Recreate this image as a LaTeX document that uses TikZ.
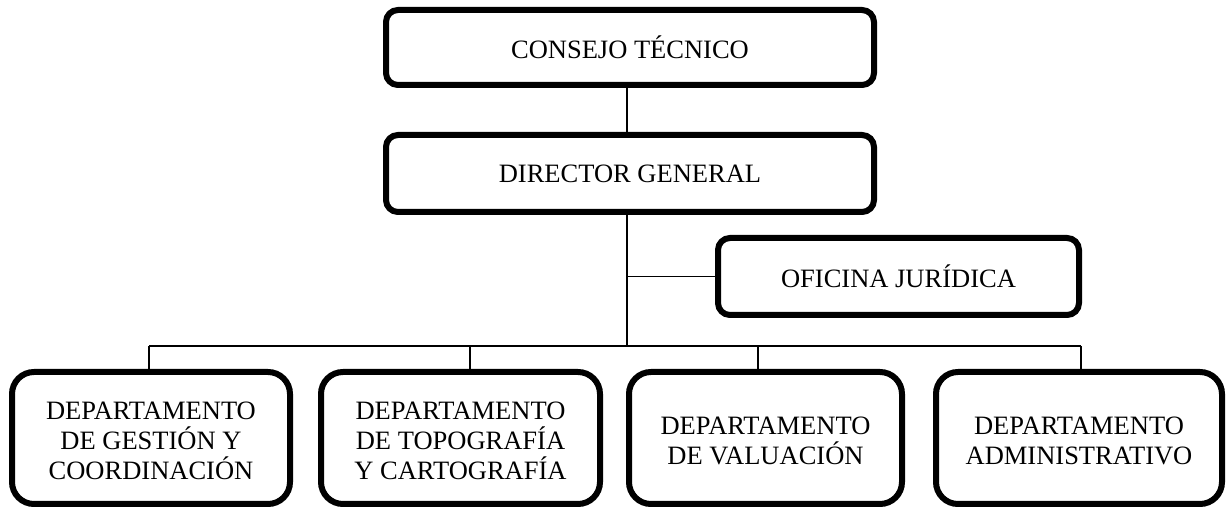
\documentclass[tikz,border=0pt]{standalone}
\usepackage{fontspec}
\setmainfont{Liberation Serif}
\newcommand{\firststrut}{\rule{0pt}{23.5pt}}
\begin{document}
\begin{tikzpicture}[x=1pt,y=-1pt,
  topbox/.style={draw, line width=6pt, rounded corners=12pt, align=center, inner sep=0pt,
    font=\fontsize{26.5}{30}\selectfont},
  deptbox/.style={draw, line width=6pt, rounded corners=22pt, align=center, inner sep=0pt,
    minimum height=132pt, font=\fontsize{26.5}{30}\selectfont},
  conn/.style={line width=1.5pt}]
\useasboundingbox (0,0) rectangle (1227,510);
\node[topbox, minimum width=488pt, minimum height=75pt] (ct) at (630,47.5) {CONSEJO TÉCNICO};
\node[topbox, minimum width=488pt, minimum height=77pt] (dg) at (630,173.5) {DIRECTOR GENERAL};
\node[topbox, minimum width=361pt, minimum height=77pt] (oj) at (898.5,276.5) {OFICINA JURÍDICA};
\node[deptbox, minimum width=278pt] (d1) at (151,438) {\firststrut DEPARTAMENTO\\DE GESTIÓN Y\\COORDINACIÓN};
\node[deptbox, minimum width=279pt] (d2) at (460.5,438) {\firststrut DEPARTAMENTO\\DE TOPOGRAFÍA\\Y CARTOGRAFÍA};
\node[deptbox, minimum width=273pt] (d3) at (765.5,438) {\firststrut DEPARTAMENTO\\DE VALUACIÓN};
\node[deptbox, minimum width=286pt] (d4) at (1079,438) {\firststrut DEPARTAMENTO\\ADMINISTRATIVO};
\coordinate (bus) at (627,346);
\coordinate (b1) at (149,346);
\coordinate (b2) at (470,346);
\coordinate (b3) at (758,346);
\coordinate (b4) at (1081,346);
\draw[conn] (ct.south -| bus) -- (dg.north -| bus);
\draw[conn] (dg.south -| bus) -- (bus);
\draw[conn] (bus |- oj.west) -- (oj.west);
\draw[conn] (b1) -- (b4);
\draw[conn] (b1) -- (d1.north -| b1);
\draw[conn] (b2) -- (d2.north -| b2);
\draw[conn] (b3) -- (d3.north -| b3);
\draw[conn] (b4) -- (d4.north -| b4);
\end{tikzpicture}
\end{document}
